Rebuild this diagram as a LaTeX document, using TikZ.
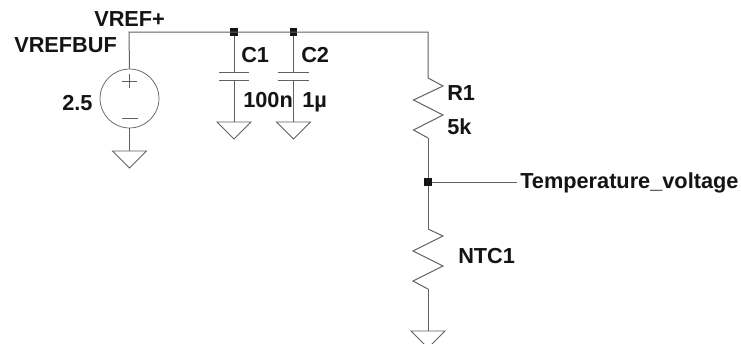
\documentclass[tikz,border=0pt]{standalone}
\usepackage{fontspec}
\setmainfont{Liberation Sans}
\definecolor{wire}{gray}{0.38}
\definecolor{ink}{gray}{0.08}
\tikzset{
  x=0.75pt,y=-0.75pt,
  wireline/.style={draw=wire,line width=0.75pt,line join=miter},
  thinline/.style={draw=wire,line width=0.55pt},
  junction/.style={fill=ink,draw=none,minimum size=5.3pt,inner sep=0pt,rectangle},
  lbl/.style={font=\bfseries\fontsize{16.3}{18}\selectfont,text=ink,inner sep=0pt,anchor=base west},
  ground/.pic={\draw[thinline] (-17,0) -- (17,0) -- (0,17) -- cycle;},
}
\begin{document}
\begin{tikzpicture}
\useasboundingbox (0,0) rectangle (741,343);
\clip (0,0) rectangle (741,343);
% named points
\coordinate (corner) at (129,32);
\coordinate (tr) at (428,32);
\node[junction] (j1) at (234,32) {};
\node[junction] (j2) at (293.5,32) {};
\node[junction] (j3) at (428,182) {};
\node[draw=wire,line width=0.55pt,circle,minimum size=44.2pt,inner sep=0pt] (v) at (129.5,98.5) {};
\coordinate (g0) at (129.5,151);
\coordinate (g1) at (234,122);
\coordinate (g2) at (293.5,122);
\coordinate (g3) at (428,331);
\coordinate (c1t) at (234,72);
\coordinate (c1b) at (234,80);
\coordinate (c2t) at (293.5,72);
\coordinate (c2b) at (293.5,80);
\coordinate (r1t) at (428,78);
\coordinate (r1b) at (428,138);
\coordinate (n1t) at (428,229);
\coordinate (n1b) at (428,289);
% source polarity
\draw[thinline] (121.5,81) -- (137,81) (129.3,74) -- (129.3,88);
\draw[thinline] (122,118) -- (138,118);
% wires
\draw[wireline] (v.north) -- (corner) -- (tr) -- (r1t);
\draw[wireline] (j1) -- (c1t);
\draw[wireline] (j2) -- (c2t);
\draw[wireline] (c1b) -- (g1);
\draw[wireline] (c2b) -- (g2);
\draw[wireline] (v.south) -- (g0);
\draw[wireline] (r1b) -- (j3) -- (n1t);
\draw[wireline] (n1b) -- (g3);
% capacitors
\draw[thinline] (219,72) -- (249,72) (219,80) -- (249,80);
\draw[thinline] (278,72) -- (309,72) (278,80) -- (309,80);
% resistors
\draw[wireline] (r1t) -- (443,86) -- (413.5,100) -- (443,115) -- (413.5,130) -- (r1b);
\draw[wireline] (n1t) -- (443,236) -- (413,251) -- (443,266) -- (413,281) -- (n1b);
% grounds
\pic at (g0) {ground};
\pic at (g1) {ground};
\pic at (g2) {ground};
\pic at (g3) {ground};
% labels
\node[lbl] (lvref) at (94,26) {VREF+};
\node[lbl] (lbuf) at (14,52) {VREFBUF};
\node[lbl] (lv) at (62,110) {2.5};
\node[lbl] (lc1) at (241,62) {C1};
\node[lbl] (lc2) at (301,62) {C2};
\node[lbl] (lc1v) at (243,107) {100n};
\node[lbl] (lc2v) at (302,107) {1µ};
\node[lbl] (lr1) at (447,100) {R1};
\node[lbl] (lr1v) at (447,134) {5k};
\node[lbl] (lntc) at (458,263) {NTC1};
\node[lbl] (ltemp) at (520,188) {Temperature\_voltage};
\draw[thinline,shorten >=2pt] (j3) -- (j3 -| ltemp.west);
\end{tikzpicture}
\end{document}
